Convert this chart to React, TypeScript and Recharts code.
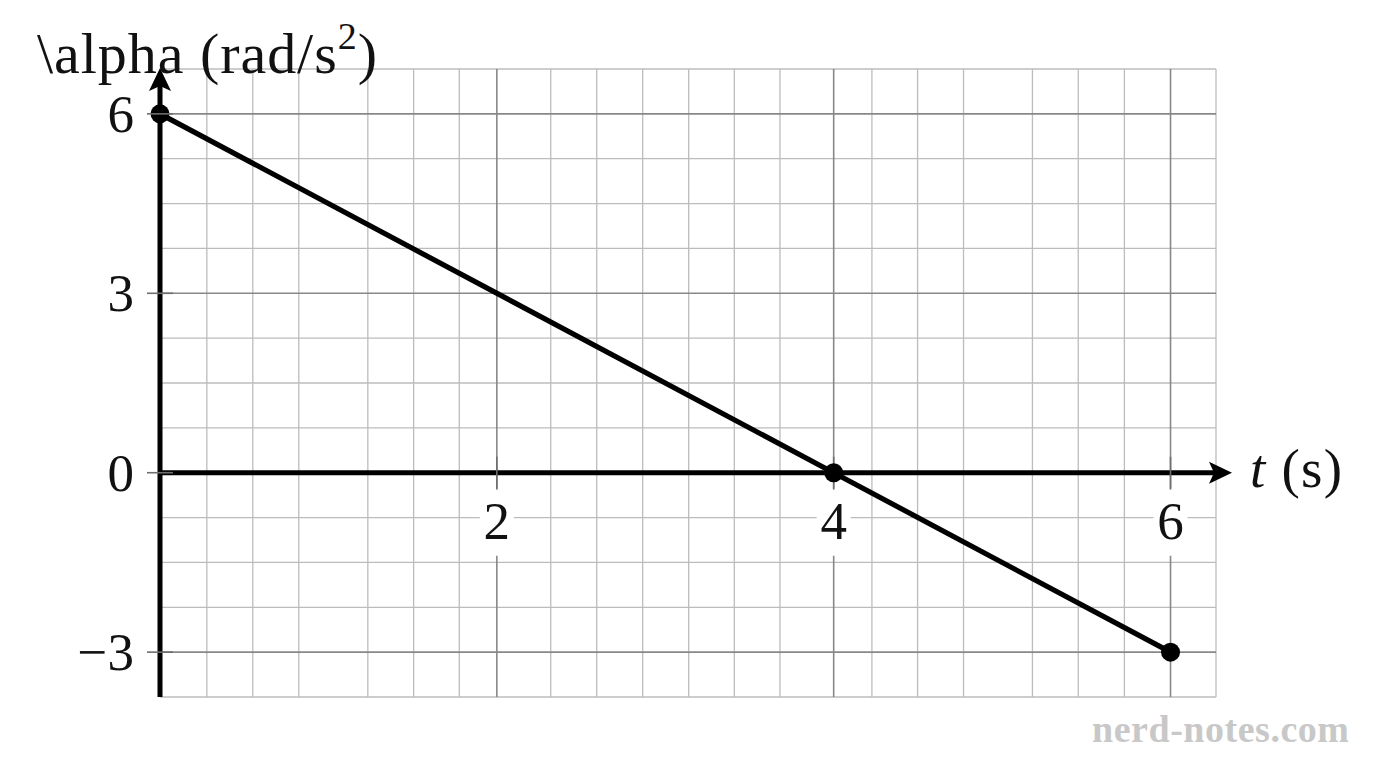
import { CartesianGrid, Line, LineChart, ReferenceDot, ReferenceLine, XAxis, YAxis } from "recharts";

// measured series: angular acceleration vs time
const timeS = [0, 4, 6];
const alphaRad = [6, 0, -3];

const xTickValues = [2, 4, 6];
const yTickValues = [-3, 0, 3, 6];

// grid lines (data units)
const minorGridT = [
  0.278, 0.551, 0.824, 1.096, 1.234, 1.506, 1.777, 2.32, 2.593, 2.866, 3.004, 3.139, 3.41, 3.681, 4.227,
  4.498, 4.771, 5.041, 5.18, 5.452, 5.726, 6.27,
];
const minorGridAlpha = [-3.75, -2.25, -1.5, -0.75, 0.75, 1.5, 2.25, 3.75, 4.5, 5.25, 6.75];
const majorGridT = [2, 4, 6];
const majorGridAlpha = [-3, 3, 6];

const T_MAX = 6.27;
const T_ARROW = 6.365;
const ALPHA_MIN = -3.75;
const ALPHA_MAX = 6.75;

const data = timeS.map((t, i) => ({ t, alpha: alphaRad[i] }));

const FONT = "'Liberation Serif', 'Times New Roman', serif";

function fmt(v: number) {
  return v < 0 ? `\u2212${Math.abs(v)}` : `${v}`;
}

function YTick({ x, y, payload }: any) {
  return (
    <g>
      <line x1={x - 13} x2={x + 13} y1={y} y2={y} stroke="#6e6e6e" strokeWidth={1.6} />
      <text x={x - 26} y={y + 18} textAnchor="end" fontFamily={FONT} fontSize={53} fill="#111">
        {fmt(payload.value)}
      </text>
    </g>
  );
}

function renderXTick(p: any, value: number) {
  const { cx, cy } = p;
  return (
    <g>
      <line x1={cx} x2={cx} y1={cy - 16} y2={cy + 16} stroke="#6e6e6e" strokeWidth={1.6} />
      <rect x={cx - 17} y={cy + 17} width={34} height={66} fill="#fff" />
      <text x={cx} y={cy + 66} textAnchor="middle" fontFamily={FONT} fontSize={53} fill="#111">
        {fmt(value)}
      </text>
    </g>
  );
}

function XAxisArrow(p: any) {
  const { x1, y1, x2 } = p;
  const len = 23;
  const half = 11;
  return (
    <g>
      <line x1={x1 - 2} y1={y1} x2={x2 - len + 5} y2={y1} stroke="#000" strokeWidth={5} />
      <path
        d={`M${x2},${y1} L${x2 - len},${y1 - half} L${x2 - len + 5},${y1} L${x2 - len},${y1 + half} Z`}
        fill="#000"
      />
    </g>
  );
}

function YAxisArrow(p: any) {
  const { x1, y1, y2 } = p;
  const tip = y2 - 1;
  const len = 23;
  const half = 11;
  return (
    <g>
      <line x1={x1} y1={y1} x2={x1} y2={tip + len - 5} stroke="#000" strokeWidth={5} />
      <path
        d={`M${x1},${tip} L${x1 - half},${tip + len} L${x1},${tip + len - 5} L${x1 + half},${tip + len} Z`}
        fill="#000"
      />
    </g>
  );
}

export default function App() {
  return (
    <div style={{ position: "absolute", left: 0, top: 0, width: 1376, height: 768, background: "#fff" }}>
      <LineChart width={1376} height={768} data={data} margin={{ top: 69, right: 160, bottom: 71, left: 100 }}>
        <CartesianGrid verticalValues={minorGridT} horizontalValues={minorGridAlpha} stroke="#bcbcbc" strokeWidth={1.3} />
        <CartesianGrid verticalValues={majorGridT} horizontalValues={majorGridAlpha} stroke="#888888" strokeWidth={1.6} />
        <XAxis type="number" dataKey="t" domain={[0, T_MAX]} hide />
        <YAxis
          type="number"
          domain={[ALPHA_MIN, ALPHA_MAX]}
          ticks={yTickValues}
          interval={0}
          width={60}
          axisLine={false}
          tickLine={false}
          tickSize={0}
          tickMargin={0}
          tick={(props: any) => <YTick {...props} />}
        />
        {xTickValues.map((v) => (
          <ReferenceDot key={v} x={v} y={0} r={1} ifOverflow="visible" shape={(p: any) => renderXTick(p, v)} />
        ))}
        <ReferenceLine
          segment={[
            { x: 0, y: 0 },
            { x: T_ARROW, y: 0 },
          ]}
          ifOverflow="visible"
          shape={(p: any) => <XAxisArrow {...p} />}
        />
        <ReferenceLine
          segment={[
            { x: 0, y: ALPHA_MIN },
            { x: 0, y: ALPHA_MAX },
          ]}
          ifOverflow="visible"
          shape={(p: any) => <YAxisArrow {...p} />}
        />
        <Line
          type="linear"
          dataKey="alpha"
          stroke="#000"
          strokeWidth={5.2}
          dot={{ r: 9.5, fill: "#000", stroke: "#000", strokeWidth: 0 }}
          activeDot={false}
          isAnimationActive={false}
        />
        <text x={37} y={73} fontFamily={FONT} fontSize={58} fill="#111" textLength={340} lengthAdjust="spacing">
          {"\\alpha (rad/s"}
          <tspan dy={-24} fontSize={38}>
            2
          </tspan>
          <tspan dy={24}>)</tspan>
        </text>
        <text x={1250} y={487} fontFamily={FONT} fontSize={55} fill="#111" textLength={92} lengthAdjust="spacing">
          <tspan fontStyle="italic">t</tspan> (s)
        </text>
        <text
          x={1092}
          y={742}
          fontFamily={FONT}
          fontSize={38}
          fontWeight="bold"
          fill="#c8c8c8"
          textLength={257}
          lengthAdjust="spacing"
        >
          nerd-notes.com
        </text>
      </LineChart>
    </div>
  );
}
